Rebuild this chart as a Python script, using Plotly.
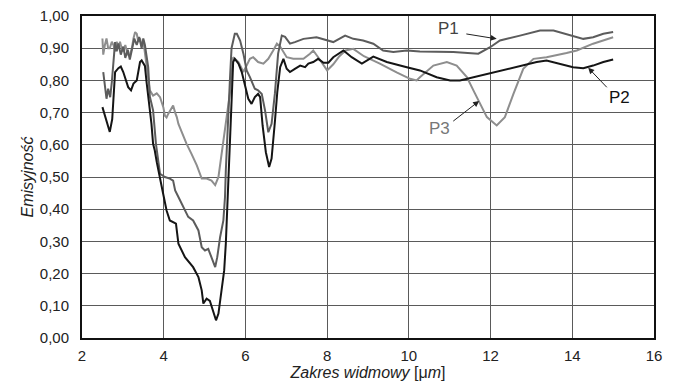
import plotly.graph_objects as go

# ---- data ----
p1_x = [2.52, 2.56, 2.60, 2.64, 2.69, 2.73, 2.77, 2.81, 2.85, 2.89, 2.95, 3.01, 3.06, 3.12, 3.17, 3.22, 3.28,
        3.34, 3.40, 3.46, 3.50, 3.54, 3.58, 3.62, 3.66, 3.74, 3.81, 3.91, 4.03, 4.15, 4.23, 4.28, 4.36, 4.48,
        4.60, 4.72, 4.85, 4.93, 5.01, 5.09, 5.17, 5.26, 5.31, 5.38, 5.46, 5.50, 5.52, 5.56, 5.62, 5.66, 5.74,
        5.79, 5.87, 5.95, 6.03, 6.11, 6.23, 6.31, 6.40, 6.48, 6.56, 6.64, 6.72, 6.80, 6.89, 6.97, 7.09, 7.21,
        7.42, 7.74, 7.99, 8.15, 8.44, 8.64, 8.88, 9.13, 9.37, 9.62, 9.95, 10.27, 11.09, 11.50, 11.70, 11.99,
        12.23, 12.72, 13.21, 13.54, 13.94, 14.27, 14.51, 14.76, 15.00]
p1_y = [0.826, 0.784, 0.743, 0.774, 0.748, 0.795, 0.867, 0.919, 0.890, 0.915, 0.880, 0.905, 0.870, 0.895, 0.865,
        0.900, 0.930, 0.910, 0.935, 0.900, 0.930, 0.910, 0.870, 0.841, 0.750, 0.707, 0.603, 0.510, 0.500, 0.495,
        0.489, 0.458, 0.438, 0.407, 0.376, 0.365, 0.334, 0.282, 0.272, 0.277, 0.251, 0.220, 0.251, 0.313, 0.365,
        0.438, 0.520, 0.650, 0.800, 0.900, 0.945, 0.945, 0.924, 0.883, 0.831, 0.810, 0.774, 0.769, 0.758, 0.707,
        0.639, 0.665, 0.758, 0.883, 0.939, 0.935, 0.914, 0.919, 0.929, 0.934, 0.924, 0.919, 0.939, 0.929, 0.924,
        0.914, 0.893, 0.888, 0.893, 0.890, 0.888, 0.885, 0.883, 0.903, 0.924, 0.939, 0.955, 0.955, 0.942, 0.929,
        0.934, 0.945, 0.950]

p2_x = [2.50, 2.56, 2.62, 2.68, 2.74, 2.77, 2.81, 2.89, 2.95, 3.01, 3.08, 3.13, 3.20, 3.26, 3.34, 3.38, 3.42,
        3.46, 3.54, 3.58, 3.66, 3.70, 3.74, 3.78, 3.83, 3.91, 3.97, 4.07, 4.15, 4.30, 4.36, 4.52, 4.72, 4.85,
        4.93, 4.97, 5.05, 5.13, 5.21, 5.28, 5.34, 5.42, 5.48, 5.52, 5.56, 5.58, 5.62, 5.66, 5.70, 5.74, 5.83,
        5.91, 5.99, 6.07, 6.15, 6.23, 6.31, 6.36, 6.42, 6.50, 6.58, 6.64, 6.72, 6.78, 6.85, 6.93, 7.01, 7.09,
        7.21, 7.34, 7.46, 7.54, 7.66, 7.78, 7.91, 8.03, 8.15, 8.40, 8.60, 8.85, 9.13, 9.46, 9.95, 10.27, 10.68,
        11.01, 11.25, 11.58, 11.90, 12.23, 12.72, 13.13, 13.37, 13.70, 14.02, 14.27, 14.51, 14.76, 15.00]
p2_y = [0.717, 0.690, 0.660, 0.640, 0.680, 0.764, 0.826, 0.838, 0.843, 0.826, 0.800, 0.779, 0.769, 0.790, 0.800,
        0.830, 0.857, 0.862, 0.845, 0.795, 0.712, 0.665, 0.603, 0.583, 0.546, 0.500, 0.458, 0.396, 0.365, 0.355,
        0.293, 0.251, 0.220, 0.189, 0.148, 0.107, 0.122, 0.115, 0.086, 0.055, 0.076, 0.158, 0.210, 0.293, 0.417,
        0.515, 0.650, 0.764, 0.857, 0.867, 0.852, 0.826, 0.784, 0.743, 0.727, 0.748, 0.758, 0.748, 0.660, 0.577,
        0.531, 0.557, 0.670, 0.764, 0.841, 0.867, 0.836, 0.826, 0.836, 0.846, 0.841, 0.852, 0.857, 0.867, 0.855,
        0.855, 0.872, 0.893, 0.872, 0.852, 0.874, 0.857, 0.841, 0.831, 0.810, 0.800, 0.800, 0.810, 0.821, 0.831,
        0.846, 0.857, 0.862, 0.852, 0.841, 0.838, 0.846, 0.857, 0.865]

p3_x = [2.50, 2.52, 2.56, 2.60, 2.64, 2.68, 2.73, 2.77, 2.81, 2.85, 2.89, 2.93, 2.97, 3.01, 3.06, 3.12, 3.17,
        3.22, 3.26, 3.30, 3.34, 3.38, 3.42, 3.46, 3.50, 3.54, 3.62, 3.66, 3.74, 3.83, 3.91, 3.99, 4.03, 4.07,
        4.11, 4.19, 4.23, 4.28, 4.32, 4.36, 4.44, 4.56, 4.68, 4.81, 4.93, 5.05, 5.17, 5.26, 5.34, 5.38, 5.46,
        5.54, 5.62, 5.66, 5.70, 5.76, 5.83, 5.95, 6.03, 6.11, 6.19, 6.31, 6.44, 6.56, 6.68, 6.77, 6.85, 6.93,
        7.01, 7.17, 7.42, 7.58, 7.66, 7.78, 7.91, 8.00, 8.15, 8.30, 8.45, 8.64, 8.90, 9.29, 9.70, 10.03, 10.19,
        10.27, 10.60, 10.93, 11.17, 11.42, 11.58, 11.70, 11.91, 12.15, 12.35, 12.56, 12.80, 13.05, 13.37, 13.86,
        14.11, 14.51, 15.00]
p3_y = [0.930, 0.880, 0.910, 0.930, 0.900, 0.900, 0.920, 0.910, 0.890, 0.920, 0.900, 0.920, 0.900, 0.890, 0.910,
        0.880, 0.877, 0.900, 0.930, 0.950, 0.945, 0.920, 0.930, 0.908, 0.924, 0.888, 0.805, 0.769, 0.753, 0.760,
        0.748, 0.717, 0.690, 0.685, 0.696, 0.715, 0.722, 0.700, 0.686, 0.665, 0.639, 0.603, 0.572, 0.536, 0.495,
        0.495, 0.489, 0.475, 0.500, 0.541, 0.614, 0.686, 0.760, 0.830, 0.872, 0.865, 0.857, 0.826, 0.846, 0.867,
        0.872, 0.857, 0.852, 0.867, 0.893, 0.914, 0.905, 0.888, 0.872, 0.867, 0.867, 0.883, 0.893, 0.872, 0.846,
        0.831, 0.850, 0.875, 0.893, 0.898, 0.875, 0.852, 0.825, 0.805, 0.800, 0.810, 0.846, 0.857, 0.846, 0.810,
        0.769, 0.738, 0.686, 0.660, 0.686, 0.758, 0.836, 0.867, 0.872, 0.885, 0.893, 0.914, 0.934]

y_ticks = [0.0, 0.1, 0.2, 0.3, 0.4, 0.5, 0.6, 0.7, 0.8, 0.9, 1.0]
y_tick_text = ["0,00", "0,10", "0,20", "0,30", "0,40", "0,50", "0,60", "0,70", "0,80", "0,90", "1,00"]
x_ticks = [2, 4, 6, 8, 10, 12, 14, 16]

labels = ["P1", "P2", "P3"]
label_pos = [(10.97, 0.960), (15.15, 0.746), (10.76, 0.650)]
arrow_tail = [(11.37, 0.945), (14.88, 0.774), (11.05, 0.670)]
arrow_head = [(12.15, 0.929), (14.39, 0.839), (11.72, 0.736)]

colors = {"P1": "#5c5c5c", "P2": "#151515", "P3": "#8e8e8e"}
label_colors = {"P1": "#444444", "P2": "#111111", "P3": "#777777"}

fig = go.Figure()
fig.add_trace(go.Scatter(x=p3_x, y=p3_y, mode="lines", name="P3",
                         line=dict(color=colors["P3"], width=2)))
fig.add_trace(go.Scatter(x=p1_x, y=p1_y, mode="lines", name="P1",
                         line=dict(color=colors["P1"], width=2)))
fig.add_trace(go.Scatter(x=p2_x, y=p2_y, mode="lines", name="P2",
                         line=dict(color=colors["P2"], width=2)))

for lab, (tx, ty), (ax_, ay_), (hx, hy) in zip(labels, label_pos, arrow_tail, arrow_head):
    fig.add_annotation(x=tx, y=ty, text=lab, showarrow=False,
                       font=dict(family="Liberation Sans, Arial", size=17, color=label_colors[lab]))
    fig.add_annotation(x=hx, y=hy, ax=ax_, ay=ay_, axref="x", ayref="y", text="",
                       showarrow=True, arrowhead=2, arrowsize=1.2, arrowwidth=1,
                       arrowcolor="#222222")

axis_font = dict(family="Liberation Sans, Arial", size=15, color="#222222")
fig.update_xaxes(range=[2, 16], tickvals=x_ticks, showgrid=True, gridcolor="#5a5a5a", gridwidth=1,
                 showline=True, linecolor="#111111", linewidth=2, mirror=True, zeroline=False,
                 ticks="", tickfont=axis_font, ticklabelstandoff=3, automargin=False,
                 ticklabeloverflow="allow",
                 title=dict(text="<i>Zakres widmowy </i>[μ<i>m</i>]", standoff=0,
                            font=dict(family="Liberation Sans, Arial", size=16, color="#222222")))
fig.update_yaxes(range=[0, 1], tickvals=y_ticks, ticktext=y_tick_text, showgrid=True, gridcolor="#5a5a5a",
                 gridwidth=1, showline=True, linecolor="#111111", linewidth=2, mirror=True, zeroline=False,
                 ticks="", tickfont=axis_font, ticklabelstandoff=8, automargin=False,
                 ticklabeloverflow="allow",
                 title=dict(text="<i>Emisyjność</i>", standoff=2,
                            font=dict(family="Liberation Sans, Arial", size=16, color="#222222")))

# page body has an 8px default margin, so offset margins accordingly
fig.update_layout(width=667, height=377, margin=dict(l=74, r=21, t=8, b=47),
                  plot_bgcolor="white", paper_bgcolor="white", showlegend=False)

fig.write_html("out.html")
